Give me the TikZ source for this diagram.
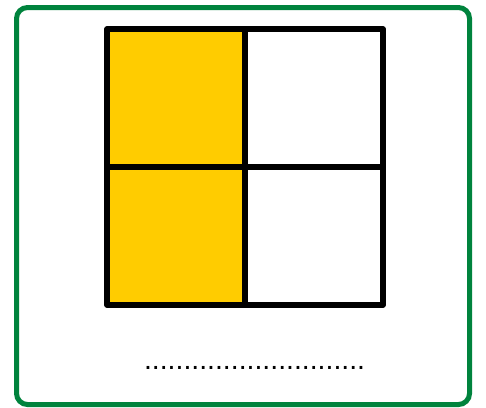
\documentclass[tikz,border=0pt]{standalone}
\usepackage{fontspec}
\setmainfont{Liberation Sans}
\usetikzlibrary{positioning}
\definecolor{cardgreen}{HTML}{00833D}
\definecolor{partyellow}{HTML}{FFCC00}
\tikzset{
  cardframe/.style={
    rectangle, draw=cardgreen, fill=white, line width=5pt,
    rounded corners=11pt, inner sep=0pt,
    minimum width=453pt, minimum height=397pt
  },
  cellbox/.style={
    rectangle, draw=black, fill=#1, line width=5.5pt,
    line join=round, inner sep=0pt, outer sep=0pt, minimum size=138pt
  },
  cellbox/.default=white,
  blankline/.style={
    font=\fontsize{28.4}{30}\selectfont, inner sep=0pt, anchor=base
  },
}
\begin{document}
\begin{tikzpicture}[x=1pt, y=-1pt, node distance=0pt]
  \useasboundingbox (0,0) rectangle (486,407);
  % card
  \node[cardframe] (card) at (243,206) {};

  % two by two square, left column shaded
  \node[cellbox=partyellow] (c11) at (176,98) {};
  \node[cellbox, right=of c11] (c12) {};
  \node[cellbox=partyellow, below=of c11] (c21) {};
  \node[cellbox, below=of c12] (c22) {};

  % answer blank
  \node[blankline] (blank) at (254.5,369) {............................};
\end{tikzpicture}
\end{document}
